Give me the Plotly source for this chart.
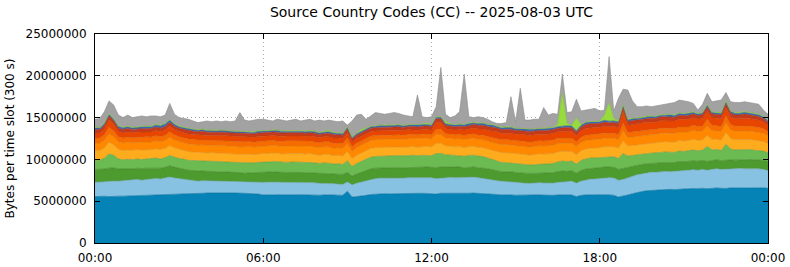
import pandas as pd
import plotly.graph_objects as go

# 10-minute slots across 2025-08-03 (UTC); values in millions of bytes per 300 s slot
SLOTS = pd.date_range("2025-08-03 00:00", periods=145, freq="10min")

DARK_BLUE = [
    5.55, 5.6, 5.6, 5.55, 5.6, 5.6,
    5.6, 5.62, 5.6, 5.65, 5.62, 5.65,
    5.7, 5.72, 5.7, 5.75, 5.8, 5.78,
    5.85, 5.88, 5.9, 5.92, 5.9, 5.95,
    5.98, 6.0, 6.02, 6.0, 5.98, 6.0,
    5.98, 6.0, 5.95, 5.92, 5.9, 5.85,
    5.75, 5.72, 5.75, 5.78, 5.75, 5.72,
    5.75, 5.78, 5.75, 5.72, 5.75, 5.75,
    5.72, 5.75, 5.78, 5.75, 5.72, 5.7,
    6.2, 5.5, 5.55, 5.6, 5.7, 5.8,
    5.85, 5.88, 5.9, 5.88, 5.9, 5.92,
    5.9, 5.92, 5.95, 5.92, 5.95, 5.93,
    5.9, 5.85, 5.95, 5.92, 5.95, 5.95,
    5.95, 5.92, 5.95, 5.97, 5.95, 5.92,
    5.9, 5.85, 5.8, 5.75, 5.78, 5.75,
    5.72, 5.75, 5.7, 5.72, 5.75, 5.75,
    5.72, 5.75, 5.7, 5.75, 5.78, 5.72,
    5.75, 5.55, 5.7, 5.75, 5.78, 5.75,
    5.75, 5.78, 5.75, 5.72, 5.5, 5.6,
    5.75, 5.9, 6.05, 6.15, 6.25, 6.3,
    6.35, 6.38, 6.4, 6.42, 6.4, 6.45,
    6.45, 6.5, 6.52, 6.5, 6.55, 6.5,
    6.55, 6.58, 6.55, 6.52, 6.6, 6.58,
    6.6, 6.62, 6.58, 6.6, 6.62, 6.6,
    6.55,
]

LIGHT_BLUE = [
    1.7, 1.7, 1.75, 1.8, 1.8, 1.8,
    1.85, 1.9, 1.9, 1.95, 1.9, 1.95,
    1.95, 2.0, 1.95, 2.0, 2.1, 2.0,
    1.85, 1.7, 1.6, 1.55, 1.5, 1.5,
    1.45, 1.4, 1.4, 1.38, 1.4, 1.35,
    1.35, 1.3, 1.3, 1.32, 1.35, 1.4,
    1.5, 1.55, 1.55, 1.5, 1.5, 1.52,
    1.5, 1.5, 1.45, 1.48, 1.45, 1.45,
    1.4, 1.38, 1.35, 1.35, 1.32, 1.3,
    1.1, 1.45, 1.6, 1.7, 1.78, 1.82,
    1.85, 1.88, 1.85, 1.88, 1.9, 1.88,
    1.85, 1.88, 1.85, 1.88, 1.9, 1.88,
    1.9, 1.85, 1.82, 1.85, 1.88, 1.85,
    1.88, 1.85, 1.88, 1.9, 1.85, 1.82,
    1.78, 1.7, 1.65, 1.6, 1.55, 1.55,
    1.5, 1.45, 1.45, 1.4, 1.42, 1.45,
    1.45, 1.42, 1.45, 1.5, 1.55, 1.6,
    1.65, 1.6, 1.7, 1.8, 1.85, 1.9,
    1.95, 2.0, 2.05, 2.05, 2.0, 2.0,
    2.05, 2.05, 2.1, 2.1, 2.1, 2.15,
    2.1, 2.15, 2.15, 2.1, 2.15, 2.2,
    2.2, 2.2, 2.25, 2.2, 2.25, 2.2,
    2.25, 2.3, 2.25, 2.3, 2.3, 2.25,
    2.3, 2.25, 2.3, 2.3, 2.25, 2.2,
    2.1,
]

DARK_GREEN = [
    1.55, 1.5, 1.5, 1.6, 1.6, 1.45,
    1.4, 1.4, 1.35, 1.35, 1.38, 1.35,
    1.3, 1.32, 1.3, 1.3, 1.35, 1.3,
    1.25, 1.25, 1.2, 1.2, 1.22, 1.2,
    1.15, 1.15, 1.12, 1.15, 1.12, 1.1,
    1.1, 1.12, 1.1, 1.15, 1.12, 1.15,
    1.2, 1.2, 1.22, 1.2, 1.18, 1.2,
    1.2, 1.18, 1.2, 1.22, 1.2, 1.18,
    1.18, 1.2, 1.2, 1.15, 1.18, 1.2,
    1.15, 1.05, 1.1, 1.15, 1.2, 1.25,
    1.25, 1.22, 1.25, 1.28, 1.25, 1.22,
    1.25, 1.22, 1.25, 1.22, 1.25, 1.28,
    1.25, 1.3, 1.35, 1.35, 1.3, 1.25,
    1.25, 1.22, 1.25, 1.22, 1.2, 1.22,
    1.2, 1.22, 1.2, 1.18, 1.2, 1.22,
    1.2, 1.22, 1.2, 1.2, 1.18, 1.2,
    1.22, 1.2, 1.25, 1.3, 1.28, 1.25,
    1.25, 1.2, 1.28, 1.3, 1.3, 1.32,
    1.3, 1.3, 1.28, 1.3, 1.3, 1.32,
    1.3, 1.25, 1.2, 1.15, 1.12, 1.1,
    1.1, 1.08, 1.1, 1.1, 1.08, 1.1,
    1.08, 1.1, 1.05, 1.08, 1.1, 1.05,
    1.05, 1.08, 1.05, 1.1, 1.05, 1.08,
    1.05, 1.08, 1.1, 1.05, 1.08, 1.1,
    1.1,
]

MID_GREEN = [
    1.1, 1.1, 1.3, 1.7, 1.5, 1.2,
    1.1, 1.1, 1.12, 1.1, 1.08, 1.1,
    1.1, 1.12, 1.1, 1.15, 1.2, 1.15,
    1.15, 1.2, 1.18, 1.2, 1.22, 1.2,
    1.2, 1.22, 1.2, 1.25, 1.22, 1.2,
    1.22, 1.2, 1.25, 1.22, 1.2, 1.25,
    1.25, 1.22, 1.2, 1.25, 1.22, 1.2,
    1.25, 1.22, 1.25, 1.2, 1.25, 1.22,
    1.2, 1.25, 1.22, 1.2, 1.25, 1.2,
    1.4, 1.15, 1.25, 1.3, 1.35, 1.4,
    1.4, 1.42, 1.4, 1.38, 1.4, 1.42,
    1.4, 1.42, 1.45, 1.42, 1.4, 1.42,
    1.4, 1.7, 1.6, 1.45, 1.4, 1.4,
    1.4, 1.38, 1.4, 1.42, 1.4, 1.38,
    1.3, 1.2, 1.15, 1.1, 1.08, 1.05,
    1.05, 1.02, 1.05, 1.0, 1.02, 1.05,
    1.05, 1.08, 1.1, 1.15, 1.2, 1.15,
    1.15, 1.1, 1.2, 1.2, 1.25, 1.2,
    1.2, 1.22, 1.2, 1.25, 1.3, 1.8,
    1.3, 1.25, 1.22, 1.2, 1.22, 1.2,
    1.2, 1.22, 1.25, 1.22, 1.2, 1.25,
    1.22, 1.25, 1.3, 1.25, 1.22, 1.8,
    1.3, 1.22, 1.2, 1.9, 1.3, 1.22,
    1.2, 1.18, 1.2, 1.15, 1.1, 1.1,
    1.05,
]

AMBER = [
    1.15, 1.15, 1.2, 1.4, 1.25, 1.15,
    1.12, 1.1, 1.12, 1.1, 1.15, 1.12,
    1.1, 1.12, 1.15, 1.12, 1.2, 1.15,
    1.1, 1.05, 1.05, 1.02, 1.0, 1.0,
    1.0, 1.02, 1.0, 0.98, 1.0, 1.02,
    1.0, 0.98, 1.0, 1.02, 1.0, 1.0,
    1.02, 1.0, 1.05, 1.02, 1.0, 1.05,
    1.02, 1.0, 1.05, 1.02, 1.05, 1.0,
    1.0, 1.02, 1.05, 1.0, 1.02, 1.0,
    1.1, 0.95, 1.0, 1.02, 1.05, 1.05,
    1.05, 1.02, 1.05, 1.05, 1.02, 1.05,
    1.02, 1.05, 1.05, 1.02, 1.05, 1.05,
    1.05, 1.2, 1.2, 1.05, 1.05, 1.05,
    1.05, 1.02, 1.05, 1.05, 1.02, 1.05,
    1.05, 1.1, 1.15, 1.18, 1.2, 1.2,
    1.2, 1.22, 1.2, 1.18, 1.2, 1.22,
    1.2, 1.18, 1.2, 1.2, 1.15, 1.2,
    1.15, 1.1, 1.15, 1.2, 1.18, 1.2,
    1.2, 1.22, 1.2, 1.2, 1.25, 1.5,
    1.2, 1.22, 1.2, 1.25, 1.22, 1.2,
    1.22, 1.25, 1.22, 1.25, 1.22, 1.25,
    1.25, 1.22, 1.28, 1.25, 1.22, 1.3,
    1.25, 1.22, 1.25, 1.4, 1.25, 1.22,
    1.22, 1.25, 1.2, 1.22, 1.2, 1.15,
    1.1,
]

ORANGE = [
    0.92, 0.92, 0.95, 1.0, 0.95, 0.92,
    0.9, 0.92, 0.9, 0.92, 0.95, 0.92,
    0.92, 0.95, 0.92, 0.95, 1.0, 0.95,
    0.92, 0.9, 0.92, 0.9, 0.88, 0.9,
    0.88, 0.9, 0.88, 0.9, 0.92, 0.9,
    0.9, 0.88, 0.9, 0.92, 0.9, 0.88,
    0.9, 0.92, 0.9, 0.88, 0.9, 0.92,
    0.9, 0.88, 0.9, 0.92, 0.9, 0.88,
    0.9, 0.92, 0.9, 0.88, 0.9, 0.9,
    0.95, 0.85, 0.9, 0.92, 0.95, 0.95,
    0.95, 0.98, 0.95, 0.95, 0.98, 0.95,
    0.95, 0.98, 0.95, 0.98, 0.95, 0.98,
    0.95, 1.1, 1.05, 0.95, 0.95, 0.95,
    0.95, 0.98, 0.95, 0.98, 0.95, 0.95,
    0.95, 0.98, 0.95, 0.95, 0.98, 0.95,
    0.95, 0.98, 0.95, 0.95, 0.98, 0.95,
    0.95, 0.98, 1.0, 1.0, 0.98, 1.0,
    1.0, 0.95, 1.0, 1.02, 1.0, 1.02,
    1.02, 1.0, 1.02, 1.0, 1.0, 1.2,
    1.0, 1.02, 1.0, 1.02, 1.05, 1.02,
    1.02, 1.05, 1.02, 1.05, 1.05, 1.02,
    1.05, 1.02, 1.05, 1.08, 1.05, 1.15,
    1.05, 1.02, 1.05, 1.15, 1.05, 1.02,
    1.02, 1.05, 1.02, 1.0, 1.02, 0.98,
    0.95,
]

DARK_ORANGE = [
    0.6, 0.6, 0.65, 0.8, 0.7, 0.6,
    0.6, 0.62, 0.6, 0.58, 0.6, 0.62,
    0.6, 0.6, 0.62, 0.6, 0.65, 0.6,
    0.6, 0.58, 0.6, 0.62, 0.6, 0.58,
    0.6, 0.62, 0.6, 0.58, 0.6, 0.6,
    0.58, 0.6, 0.62, 0.6, 0.58, 0.6,
    0.6, 0.62, 0.6, 0.58, 0.6, 0.62,
    0.6, 0.58, 0.6, 0.62, 0.6, 0.6,
    0.58, 0.6, 0.62, 0.6, 0.58, 0.6,
    0.65, 0.55, 0.55, 0.52, 0.5, 0.52,
    0.5, 0.52, 0.5, 0.48, 0.5, 0.52,
    0.5, 0.52, 0.5, 0.5, 0.52, 0.5,
    0.5, 0.6, 0.65, 0.5, 0.52, 0.5,
    0.5, 0.52, 0.5, 0.52, 0.55, 0.55,
    0.55, 0.58, 0.6, 0.6, 0.58, 0.6,
    0.6, 0.62, 0.6, 0.58, 0.6, 0.62,
    0.6, 0.62, 0.6, 0.62, 0.6, 0.6,
    0.6, 0.58, 0.6, 0.62, 0.6, 0.62,
    0.6, 0.62, 0.6, 0.6, 0.62, 0.9,
    0.62, 0.6, 0.62, 0.6, 0.62, 0.6,
    0.6, 0.62, 0.6, 0.62, 0.6, 0.62,
    0.62, 0.6, 0.62, 0.6, 0.62, 0.8,
    0.62, 0.6, 0.62, 0.8, 0.62, 0.6,
    0.6, 0.62, 0.6, 0.6, 0.58, 0.55,
    0.5,
]

RED_ORANGE = [
    0.6, 0.6, 0.7, 0.9, 0.8, 0.62,
    0.6, 0.62, 0.6, 0.62, 0.6, 0.58,
    0.6, 0.62, 0.6, 0.65, 0.7, 0.62,
    0.6, 0.62, 0.6, 0.58, 0.6, 0.62,
    0.6, 0.58, 0.6, 0.62, 0.6, 0.6,
    0.6, 0.62, 0.6, 0.58, 0.6, 0.62,
    0.6, 0.58, 0.6, 0.62, 0.6, 0.58,
    0.6, 0.62, 0.6, 0.58, 0.6, 0.62,
    0.6, 0.58, 0.6, 0.62, 0.6, 0.6,
    0.65, 0.55, 0.55, 0.55, 0.55, 0.55,
    0.55, 0.52, 0.55, 0.58, 0.55, 0.52,
    0.55, 0.58, 0.55, 0.52, 0.55, 0.58,
    0.55, 0.8, 0.8, 0.6, 0.55, 0.55,
    0.6, 0.62, 0.65, 0.7, 0.72, 0.75,
    0.75, 0.78, 0.8, 0.78, 0.8, 0.82,
    0.8, 0.78, 0.8, 0.82, 0.8, 0.78,
    0.8, 0.82, 0.8, 0.78, 0.8, 0.82,
    0.8, 0.75, 0.8, 0.82, 0.85, 0.82,
    0.82, 0.85, 0.82, 0.85, 0.85, 1.4,
    0.85, 0.88, 0.85, 0.88, 0.85, 0.88,
    0.85, 0.88, 0.9, 0.88, 0.9, 0.92,
    0.9, 0.92, 0.9, 0.85, 0.9, 0.95,
    0.9, 0.88, 0.9, 1.0, 0.9, 0.88,
    0.88, 0.9, 0.88, 0.85, 0.85, 0.8,
    0.7,
]

DARK_RED = [
    0.4, 0.4, 0.42, 0.45, 0.42, 0.4,
    0.4, 0.42, 0.4, 0.38, 0.4, 0.42,
    0.4, 0.42, 0.4, 0.42, 0.45, 0.42,
    0.4, 0.42, 0.4, 0.38, 0.4, 0.42,
    0.4, 0.38, 0.4, 0.42, 0.4, 0.4,
    0.4, 0.42, 0.4, 0.38, 0.4, 0.42,
    0.4, 0.38, 0.4, 0.42, 0.4, 0.38,
    0.4, 0.42, 0.4, 0.38, 0.4, 0.42,
    0.4, 0.38, 0.4, 0.42, 0.4, 0.4,
    0.45, 0.38, 0.4, 0.4, 0.42, 0.4,
    0.4, 0.42, 0.4, 0.38, 0.4, 0.42,
    0.4, 0.38, 0.4, 0.42, 0.4, 0.4,
    0.4, 0.45, 0.45, 0.42, 0.4, 0.4,
    0.4, 0.42, 0.4, 0.42, 0.45, 0.45,
    0.45, 0.47, 0.45, 0.43, 0.45, 0.47,
    0.45, 0.43, 0.45, 0.47, 0.45, 0.45,
    0.45, 0.47, 0.45, 0.43, 0.45, 0.47,
    0.45, 0.43, 0.45, 0.47, 0.45, 0.45,
    0.45, 0.47, 0.45, 0.45, 0.47, 0.5,
    0.45, 0.47, 0.45, 0.43, 0.45, 0.47,
    0.45, 0.47, 0.45, 0.47, 0.45, 0.47,
    0.45, 0.47, 0.45, 0.43, 0.45, 0.5,
    0.45, 0.47, 0.45, 0.5, 0.45, 0.47,
    0.45, 0.47, 0.45, 0.45, 0.43, 0.42,
    0.4,
]

BLUE = [
    0.2, 0.2, 0.18, 0.2, 0.18, 0.2,
    0.22, 0.2, 0.18, 0.2, 0.22, 0.2,
    0.22, 0.25, 0.3, 0.28, 0.25, 0.22,
    0.2, 0.18, 0.2, 0.18, 0.16, 0.18,
    0.18, 0.16, 0.18, 0.2, 0.18, 0.16,
    0.18, 0.2, 0.18, 0.16, 0.18, 0.2,
    0.18, 0.16, 0.18, 0.2, 0.18, 0.16,
    0.18, 0.2, 0.18, 0.16, 0.18, 0.2,
    0.18, 0.16, 0.18, 0.2, 0.18, 0.16,
    0.18, 0.16, 0.18, 0.2, 0.18, 0.16,
    0.18, 0.2, 0.18, 0.16, 0.18, 0.2,
    0.18, 0.16, 0.18, 0.2, 0.18, 0.16,
    0.18, 0.2, 0.18, 0.16, 0.18, 0.2,
    0.18, 0.2, 0.25, 0.18, 0.2, 0.22,
    0.2, 0.22, 0.2, 0.18, 0.2, 0.22,
    0.2, 0.18, 0.2, 0.22, 0.2, 0.2,
    0.2, 0.22, 0.2, 0.18, 0.2, 0.22,
    0.2, 0.18, 0.2, 0.22, 0.2, 0.2,
    0.2, 0.22, 0.2, 0.18, 0.2, 0.22,
    0.2, 0.22, 0.2, 0.18, 0.2, 0.22,
    0.2, 0.18, 0.2, 0.22, 0.2, 0.2,
    0.2, 0.22, 0.2, 0.18, 0.2, 0.22,
    0.2, 0.18, 0.2, 0.22, 0.2, 0.2,
    0.2, 0.22, 0.2, 0.18, 0.2, 0.2,
    0.18,
]

LIME = [
    0.08, 0.08, 0.1, 0.08, 0.08, 0.08,
    0.08, 0.1, 0.08, 0.08, 0.08, 0.1,
    0.08, 0.08, 0.1, 0.08, 0.08, 0.08,
    0.08, 0.08, 0.1, 0.08, 0.08, 0.08,
    0.08, 0.1, 0.08, 0.08, 0.08, 0.08,
    0.08, 0.08, 0.08, 0.1, 0.08, 0.08,
    0.08, 0.08, 0.1, 0.08, 0.08, 0.08,
    0.08, 0.08, 0.08, 0.1, 0.08, 0.08,
    0.08, 0.1, 0.2, 0.08, 0.08, 0.08,
    0.08, 0.1, 0.08, 0.25, 0.08, 0.08,
    0.08, 0.08, 0.1, 0.08, 0.08, 0.08,
    0.08, 0.08, 0.08, 0.1, 0.08, 0.2,
    0.08, 0.1, 0.08, 0.3, 0.1, 0.08,
    0.08, 0.08, 0.1, 0.08, 0.08, 0.08,
    0.08, 0.08, 0.08, 0.1, 0.08, 0.08,
    0.08, 0.1, 0.08, 0.08, 0.08, 0.08,
    0.1, 0.08, 0.08, 0.3, 4.0, 0.3,
    0.08, 1.5, 0.1, 0.08, 0.08, 0.1,
    0.08, 0.6, 2.2, 0.3, 0.1, 0.1,
    0.1, 0.08, 0.08, 0.08, 0.1, 0.08,
    0.08, 0.08, 0.1, 0.08, 0.08, 0.08,
    0.08, 0.1, 0.08, 0.08, 0.08, 0.1,
    0.08, 0.08, 0.08, 0.1, 0.08, 0.08,
    0.1, 0.08, 0.08, 0.08, 0.1, 0.08,
    0.08,
]

# top of the stack (upper edge of the grey "other" layer)
TOTAL = [
    14.8, 14.9, 15.7, 17.0, 16.5, 15.3,
    15.0, 15.3, 15.0, 15.1, 15.2, 15.1,
    15.2, 15.2, 15.1, 15.3, 16.7, 15.4,
    15.0, 14.9, 14.8, 14.6, 14.4, 14.5,
    14.6, 14.5, 14.6, 14.5, 14.6, 14.5,
    14.6, 15.6, 14.7, 14.6, 14.7, 14.8,
    14.8, 14.7, 14.6, 14.8, 14.7, 14.6,
    14.7, 14.8, 14.6, 14.7, 14.8, 14.6,
    14.7, 14.6, 14.7, 14.6, 14.5, 14.6,
    14.1, 14.6, 15.3, 15.4, 14.8, 15.2,
    15.6, 15.5, 15.4, 15.5, 15.6, 15.5,
    15.3, 15.2, 15.1, 17.7, 15.1, 15.0,
    15.1, 16.3, 21.0, 15.4, 15.0, 15.2,
    15.7, 20.2, 15.1, 15.0, 15.1, 15.0,
    14.8, 14.5, 14.3, 14.3, 14.4, 17.5,
    14.5, 18.5, 14.7, 14.7, 14.8, 14.8,
    16.2, 15.3, 15.5, 15.4, 20.2, 15.6,
    15.7, 17.2, 15.8, 15.9, 16.0, 16.1,
    15.8, 15.9, 22.3, 15.8, 17.3, 18.4,
    18.3, 17.0, 16.3, 16.3, 16.4, 16.3,
    16.4, 16.5, 16.6, 16.7, 16.8, 17.1,
    17.0, 16.9, 16.7, 15.9, 16.6, 17.9,
    16.9, 17.0, 17.1, 18.0, 16.9, 16.8,
    16.8, 16.9, 16.8, 16.7, 16.6, 15.9,
    15.4,
]

LAYERS = [DARK_BLUE, LIGHT_BLUE, DARK_GREEN, MID_GREEN, AMBER, ORANGE,
          DARK_ORANGE, RED_ORANGE, DARK_RED, BLUE, LIME]
for lay in LAYERS + [TOTAL]:
    assert len(lay) == len(SLOTS), len(lay)

GREY = [max(TOTAL[i] - sum(l[i] for l in LAYERS), 0.05) for i in range(len(SLOTS))]

FILLS = ["#0583b6", "#88c2e2", "#4d9a2e", "#6cba52", "#ffab1e", "#ff8800",
         "#f66c00", "#e84600", "#c43a1c", "#3c6cb4", "#96dc3c", "#a2a2a2"]


def darker(hexcol, f=0.85):
    r, g, b = (int(hexcol[i:i + 2], 16) for i in (1, 3, 5))
    return "#%02x%02x%02x" % (int(r * f), int(g * f), int(b * f))


fig = go.Figure()
for vals, col in zip(LAYERS + [GREY], FILLS):
    fig.add_trace(go.Scatter(
        x=SLOTS, y=[v * 1e6 for v in vals],
        mode="lines", stackgroup="one",
        line=dict(width=0.6, color=darker(col)),
        fillcolor=col, hoverinfo="skip", showlegend=False,
    ))

FONT = "DejaVu Sans"
axis_common = dict(
    showline=True, linecolor="black", linewidth=1, mirror="ticks",
    ticks="inside", ticklen=5, tickcolor="black",
    showgrid=True, gridcolor="#aaaaaa", griddash="1px,3px", gridwidth=1,
    zeroline=False, automargin=False,
    tickfont=dict(family=FONT, size=12, color="black"),
)

fig.update_layout(
    width=790, height=267,
    margin=dict(l=95, r=22, t=34, b=24),
    paper_bgcolor="white", plot_bgcolor="white",
    title=dict(text="Source Country Codes (CC) -- 2025-08-03 UTC",
               x=(95 + 768) / 2 / 790, xanchor="center",
               yref="container", y=1 - 12 / 267, yanchor="middle",
               font=dict(family=FONT, size=14, color="black")),
    xaxis=dict(range=["2025-08-03 00:00", "2025-08-04 00:00"],
               tickvals=["2025-08-03 00:00", "2025-08-03 06:00", "2025-08-03 12:00",
                         "2025-08-03 18:00", "2025-08-04 00:00"],
               ticktext=["00:00", "06:00", "12:00", "18:00", "00:00"],
               ticklabelstandoff=4,
               **axis_common),
    yaxis=dict(range=[0, 25e6], tickvals=[0, 5e6, 10e6, 15e6, 20e6, 25e6],
               ticktext=["0", "5000000", "10000000", "15000000", "20000000", "25000000"],
               ticklabelstandoff=5,
               title=dict(text="Bytes per time slot (300 s)", standoff=8,
                          font=dict(family=FONT, size=12, color="black")),
               **axis_common),
)

fig.write_html("out.html")
